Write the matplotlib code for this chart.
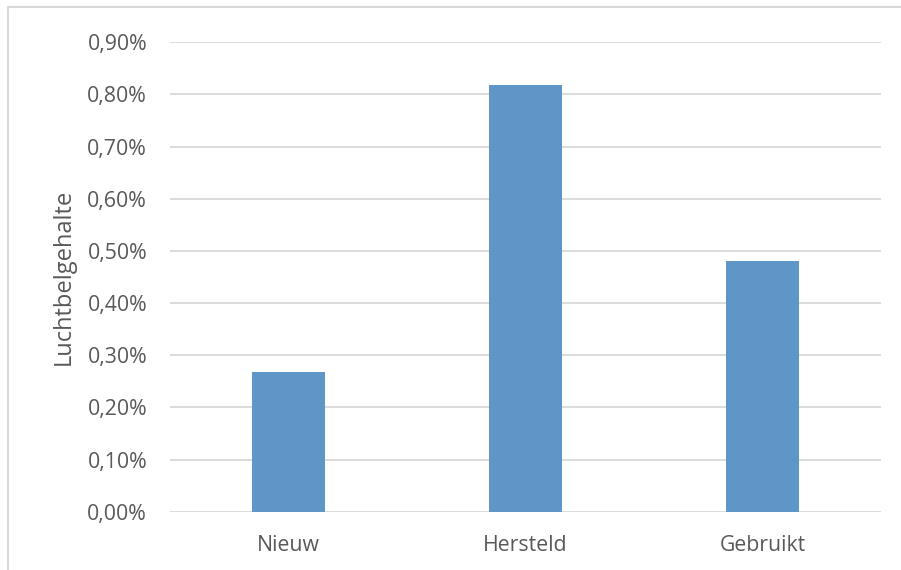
import matplotlib
matplotlib.use("Agg")
import matplotlib.pyplot as plt
from matplotlib.patches import Rectangle
from matplotlib.ticker import FuncFormatter, MultipleLocator

categories = ["Nieuw", "Hersteld", "Gebruikt"]
values = [0.00267, 0.00818, 0.00481]
y_label = "Luchtbelgehalte"

text_color = "#595959"
grid_color = "#d9d9d9"
bar_color = "#5f96c8"

plt.rcParams["font.family"] = ["Open Sans", "DejaVu Sans"]

fig = plt.figure(figsize=(9.01, 5.70), dpi=100)
ax = fig.add_axes([170 / 901, 1 - 511.7 / 570, 711 / 901, (511.7 - 42.3) / 570])

x = list(range(len(categories)))
ax.bar(x, values, width=0.312, color=bar_color, zorder=3)

ax.set_xlim(-0.5, len(categories) - 0.5)
ax.set_ylim(0, 0.009)
ax.yaxis.set_major_locator(MultipleLocator(0.001))
ax.yaxis.set_major_formatter(
    FuncFormatter(lambda v, _: f"{v * 100:.2f}%".replace(".", ","))
)
ax.set_xticks(x)
ax.set_xticklabels(categories)

ax.grid(axis="y", color=grid_color, linewidth=1.3, zorder=0)
for s in ax.spines.values():
    s.set_visible(False)
ax.tick_params(axis="both", length=0, labelsize=15.3, labelcolor=text_color)
ax.tick_params(axis="y", pad=16.5)
ax.tick_params(axis="x", pad=17)

ax.set_ylabel(y_label, fontsize=17, color=text_color, labelpad=8)

# outer chart frame
fig.patches.append(
    Rectangle((8 / 901, -0.1), 1.2, 1.1 - 7.5 / 570, transform=fig.transFigure,
              fill=False, edgecolor="#d9d9d9", linewidth=1.5)
)

fig.savefig("out.png", dpi=100, facecolor="white")
